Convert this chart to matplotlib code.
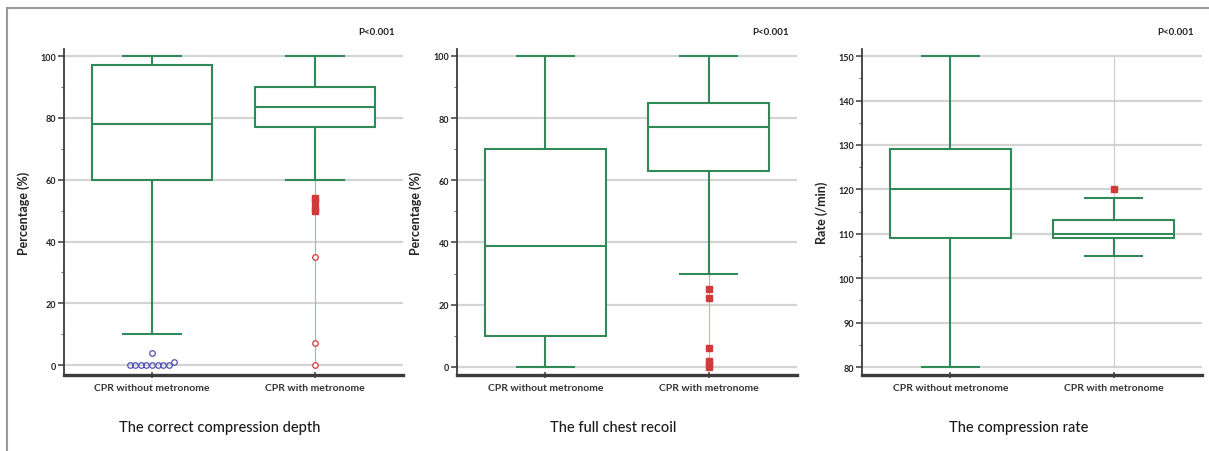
import matplotlib
matplotlib.use('Agg')
import matplotlib.pyplot as plt
from matplotlib.lines import Line2D
from matplotlib.ticker import MultipleLocator

plt.rcParams['font.family'] = ['Lato', 'DejaVu Sans']

# categories
groups = ["CPR without metronome", "CPR with metronome"]

# correct compression depth (%)
depth_q1 = [60, 77]
depth_med = [78, 83.5]
depth_q3 = [97, 90]
depth_lo = [10, 60]
depth_hi = [100, 100]
depth_blue_without = [0, 0, 0, 0, 0, 0, 0, 0, 1, 4]
depth_sq_with = [54, 53, 51, 50]
depth_circ_with = [35, 7, 0]

# full chest recoil (%)
recoil_q1 = [10, 63]
recoil_med = [39, 77]
recoil_q3 = [70, 85]
recoil_lo = [0, 30]
recoil_hi = [100, 100]
recoil_sq_with = [25, 22, 6, 2, 1, 0]

# compression rate (/min)
rate_q1 = [109, 109]
rate_med = [120, 110]
rate_q3 = [129, 113]
rate_lo = [80, 105]
rate_hi = [150, 118]
rate_sq_with = [120]

GREEN = '#2f8a58'
RED = '#d23a3a'
BLUE = '#5050b0'
GRID = '#d4d4d4'
SPINE = '#3c3c3c'


def swarm(values, xc, dx, dy):
    # simple dodge so equal values sit side by side
    placed = []
    for v in values:
        k = 0
        while True:
            off = ((k + 1) // 2) * (-1 if k % 2 else 1) * dx if k else 0.0
            x = xc + off
            if all(abs(x - px) >= dx * 0.95 or abs(v - pv) >= dy for px, pv in placed):
                break
            k += 1
        placed.append((x, v))
    return [p[0] for p in placed], [p[1] for p in placed]


def make_stats(q1, med, q3, lo, hi):
    return [dict(q1=q1[i], med=med[i], q3=q3[i], whislo=lo[i], whishi=hi[i], fliers=[])
            for i in range(len(q1))]


def draw_boxes(ax, stats):
    ax.bxp(stats, positions=[1, 2], widths=0.74, showfliers=False, patch_artist=True,
           boxprops=dict(facecolor='white', edgecolor=GREEN, linewidth=1.5),
           medianprops=dict(color=GREEN, linewidth=1.5),
           whiskerprops=dict(color=GREEN, linewidth=1.5),
           capprops=dict(color=GREEN, linewidth=1.5),
           capwidths=0.35, zorder=3)


def setup_ax(ax, ylim, major, minor, ylabel, title):
    ax.set_ylim(*ylim)
    ax.set_xlim(0.46, 2.54)
    ax.yaxis.set_major_locator(MultipleLocator(major))
    ax.yaxis.set_minor_locator(MultipleLocator(minor))
    ax.yaxis.grid(True, color=GRID, linewidth=1.6, zorder=0)
    ax.set_axisbelow(True)
    for s in ['top', 'right']:
        ax.spines[s].set_visible(False)
    ax.spines['left'].set_color(SPINE)
    ax.spines['left'].set_linewidth(1.3)
    ax.spines['bottom'].set_color(SPINE)
    ax.spines['bottom'].set_linewidth(2.4)
    ax.tick_params(axis='y', which='major', direction='out', length=4, width=1.1,
                   color=SPINE, labelsize=6.5, pad=1.5, labelcolor='#222222')
    ax.tick_params(axis='y', which='minor', direction='out', length=2.5, width=0.8, color='#777777')
    for lab in ax.get_yticklabels():
        lab.set_fontweight('bold')
    ax.set_xticks([1, 2])
    ax.set_xticklabels(groups, fontsize=7.5, fontweight='bold', color='#333333')
    ax.tick_params(axis='x', direction='inout', length=5, width=1.1, color=SPINE, pad=3)
    ax.set_ylabel(ylabel, fontsize=9, fontweight='bold', labelpad=8, color='#222222')
    ax.text(0.46, -0.16, title, transform=ax.transAxes, ha='center', va='center',
            fontsize=10.5, fontweight='medium', color='#1a1a1a')
    ax.text(0.975, 1.055, "P<0.001", transform=ax.transAxes, ha='right', va='center',
            fontsize=7, fontweight='bold', color='#222222')


fig = plt.figure(figsize=(12.09, 4.52), dpi=100)
W, H = 1209.0, 452.0
ax_bottom = (H - 376) / H
ax_h = 326 / H
ax1 = fig.add_axes([64 / W, ax_bottom, 339 / W, ax_h])
ax2 = fig.add_axes([457 / W, ax_bottom, 340 / W, ax_h])
ax3 = fig.add_axes([862 / W, ax_bottom, 340 / W, ax_h])

# panel 1
draw_boxes(ax1, make_stats(depth_q1, depth_med, depth_q3, depth_lo, depth_hi))
setup_ax(ax1, (-3.2, 102.3), 20, 10, "Percentage (%)", "The correct compression depth")
ax1.vlines(2, min(depth_circ_with), depth_lo[1], color='#9fb8b0', linewidth=0.8, zorder=2)
bx, by = swarm(depth_blue_without, 1, 0.034, 2.0)
ax1.plot(bx, by, 'o', ms=4, mfc='none', mec=BLUE, mew=0.9, zorder=4, linestyle='none')
ax1.plot([2] * len(depth_sq_with), depth_sq_with, 's', ms=4.5, color=RED, zorder=4, linestyle='none')
ax1.plot([2] * len(depth_circ_with), depth_circ_with, 'o', ms=4, mfc='white', mec=RED, mew=0.9,
         zorder=4, linestyle='none')

# panel 2
draw_boxes(ax2, make_stats(recoil_q1, recoil_med, recoil_q3, recoil_lo, recoil_hi))
setup_ax(ax2, (-2.6, 102.2), 20, 10, "Percentage (%)", "The full chest recoil")
ax2.vlines(2, min(recoil_sq_with), recoil_lo[1], color='#e0a8a8', linewidth=0.8, zorder=2)
ax2.plot([2] * len(recoil_sq_with), recoil_sq_with, 's', ms=4.5, color=RED, zorder=4, linestyle='none')

# panel 3
draw_boxes(ax3, make_stats(rate_q1, rate_med, rate_q3, rate_lo, rate_hi))
setup_ax(ax3, (78.2, 151.6), 10, 5, "Rate (/min)", "The compression rate")
ax3.vlines(2, rate_lo[0], rate_hi[0], color='#cccccc', linewidth=0.8, zorder=1)
ax3.plot([2] * len(rate_sq_with), rate_sq_with, 's', ms=4.5, color=RED, zorder=4, linestyle='none')

# thin frame on top and left of the image
fig.add_artist(Line2D([7 / W, 1.0], [1 - 9 / H, 1 - 9 / H], color='#9a9a9a', linewidth=1.5))
fig.add_artist(Line2D([7 / W, 7 / W], [0.0, 1 - 9 / H], color='#9a9a9a', linewidth=1.5))

fig.savefig('out.png', dpi=100)
plt.close(fig)
